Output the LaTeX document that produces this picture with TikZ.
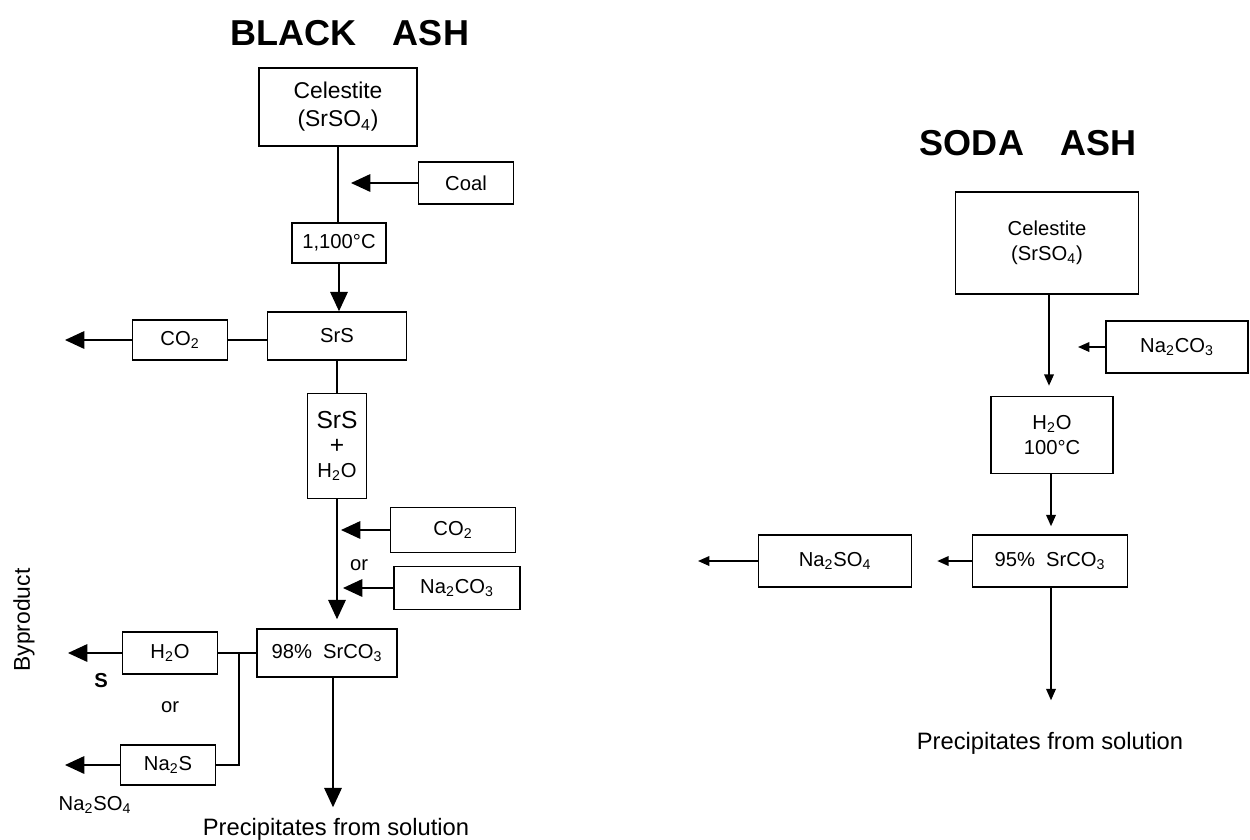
\documentclass[tikz,border=0pt]{standalone}
\usepackage{fontspec}
\setmainfont{Liberation Sans}
\usetikzlibrary{arrows.meta}
\newcommand\bxfont{\fontsize{11.5}{14}\selectfont}
\newcommand\ttlfont{\fontsize{20.5}{24}\selectfont\bfseries}
\tikzset{
	box/.style={draw, line width=0.9pt, inner sep=0pt, align=center, font=\bxfont},
	lbl/.style={inner sep=0pt, font=\bxfont},
	bigarrow/.style={-{Triangle[length=11pt,width=10pt]}, line width=0.8pt},
	smallarrow/.style={-{Triangle[length=6.5pt,width=5.5pt]}, line width=0.9pt},
}

\begin{document}
\begin{tikzpicture}[x=0.02cm, y=-0.02cm, line width=0.8pt]
		%%%%% START %%%%%
		\useasboundingbox (0, 0) rectangle (1250, 839);
		
		%%%%% BLACK ASH %%%%%
		\node[inner sep=0pt, anchor=base, font=\ttlfont] (title1) at (350, 45) {BLACK\quad ASH};
		
		\node[box, minimum width=3.16cm, minimum height=1.56cm, font=\fontsize{13}{16}\selectfont] (cel1) at (338, 107) {Celestite\\(SrSO\textsubscript{4})};
		\node[box, minimum width=1.9cm, minimum height=0.84cm] (coal) at (466, 183) {Coal};
		\node[box, minimum width=1.88cm, minimum height=0.8cm] (temp1) at (339, 243) {1,100°C};
		\node[box, minimum width=2.78cm, minimum height=0.96cm] (srs) at (337, 336) {SrS};
		\node[box, minimum width=1.9cm, minimum height=0.8cm] (co2a) at (180, 340) {CO\textsubscript{2}};
		\node[box, minimum width=1.18cm, minimum height=2.1cm] (srsh2o) at (337, 446) {{\fontsize{14}{16}\selectfont SrS}\\{\fontsize{14}{16}\selectfont +}\\H\textsubscript{2}O};
		\node[box, minimum width=2.5cm, minimum height=0.9cm] (co2b) at (453, 530) {CO\textsubscript{2}};
		\node[lbl] (or1) at (359, 565) {or};
		\node[box, minimum width=2.52cm, minimum height=0.86cm] (naco) at (457, 588) {Na\textsubscript{2}CO\textsubscript{3}};
		\node[box, minimum width=2.8cm, minimum height=0.96cm] (pct98) at (327, 653) {98\%\ \ SrCO\textsubscript{3}};
		\node[box, minimum width=1.9cm, minimum height=0.84cm] (h2o) at (170, 653) {H\textsubscript{2}O};
		\node[box, minimum width=1.9cm, minimum height=0.8cm] (nas) at (168, 765) {Na\textsubscript{2}S};
		\node[lbl, font=\bxfont\bfseries] (sout) at (101, 681) {S};
		\node[lbl] (or2) at (170, 707) {or};
		\node[lbl] (nasout) at (95, 805) {Na\textsubscript{2}SO\textsubscript{4}};
		\node[inner sep=0pt, font=\fontsize{13.5}{16}\selectfont] (prec1) at (336, 829) {Precipitates from solution};
		\node[inner sep=0pt, rotate=90, font=\fontsize{13}{16}\selectfont] (byprod) at (24, 620) {Byproduct};
		
		\coordinate (co2tip) at (65, 340);
		\coordinate (h2otip) at (68, 653);
		\coordinate (nastip) at (65, 765);
		\coordinate (jn) at (239, 653);
		
		\draw (cel1.south) -- (cel1.south |- temp1.north);
		\draw[bigarrow, shorten >=0.26cm] (coal.west) -- (coal.west -| cel1.south);
		\draw[bigarrow] (temp1.south) -- (temp1.south |- srs.north);
		\draw (co2a.east) -- (co2a.east -| srs.west);
		\draw[bigarrow] (co2a.west) -- (co2tip);
		\draw (srs.south) -- (srs.south |- srsh2o.north);
		\draw[bigarrow, shorten >=0.18cm] (srsh2o.south) -- (srsh2o.south |- pct98.north);
		\draw[bigarrow, shorten >=0.08cm] (co2b.west) -- (co2b.west -| srsh2o.south);
		\draw[bigarrow, shorten >=0.12cm] (naco.west) -- (naco.west -| srsh2o.south);
		\draw (h2o.east) -- (pct98.west);
		\draw (jn) |- (nas.east);
		\draw[bigarrow] (h2o.west) -- (h2otip);
		\draw[bigarrow] (nas.west) -- (nastip);
		\draw[bigarrow, shorten >=0.2cm] (pct98.south -| 333, 0) -- (333, 0 |- prec1.north);
		
		%%%%% SODA ASH %%%%%
		\node[inner sep=0pt, anchor=base, font=\ttlfont] (title2) at (1028, 155) {SODA\quad ASH};
		
		\node[box, minimum width=3.66cm, minimum height=2.04cm] (cel2) at (1047, 243) {Celestite\\(SrSO\textsubscript{4})};
		\node[box, minimum width=2.84cm, minimum height=1.04cm] (naco2) at (1177, 347) {Na\textsubscript{2}CO\textsubscript{3}};
		\node[box, minimum width=2.44cm, minimum height=1.54cm] (h2o2) at (1052, 435) {H\textsubscript{2}O\\100°C};
		\node[box, minimum width=3.1cm, minimum height=1.04cm] (pct95) at (1050, 561) {95\%\ \ SrCO\textsubscript{3}};
		\node[box, minimum width=3.06cm, minimum height=1.04cm] (naso) at (835, 561) {Na\textsubscript{2}SO\textsubscript{4}};
		\node[inner sep=0pt, font=\fontsize{13.5}{16}\selectfont] (prec2) at (1050, 743) {Precipitates from solution};
		
		\coordinate (nasotip) at (698, 561);
		
		\draw[smallarrow, shorten >=0.2cm] (cel2.south -| 1049, 0) -- (1049, 0 |- h2o2.north);
		\draw[smallarrow, shorten >=0.58cm] (naco2.west) -- (naco2.west -| 1049, 0);
		\draw[smallarrow, shorten >=0.16cm] (h2o2.south -| 1051, 0) -- (1051, 0 |- pct95.north);
		\draw[smallarrow, shorten >=0.5cm] (pct95.west) -- (naso.east);
		\draw[smallarrow] (naso.west) -- (nasotip);
		\draw[smallarrow, shorten >=0.62cm] (pct95.south -| 1051, 0) -- (1051, 0 |- prec2.north);
		
		%%%%% END %%%%%
	\end{tikzpicture}
\end{document}
